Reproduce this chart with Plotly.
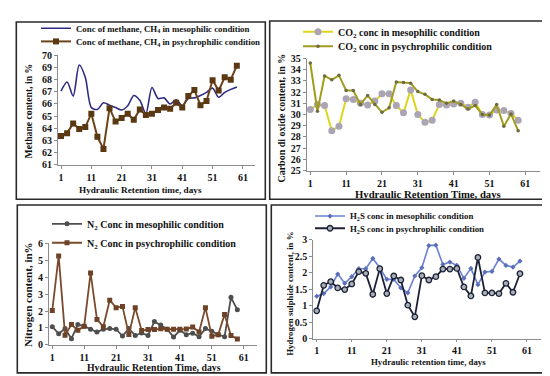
import plotly.graph_objects as go

days = list(range(1, 60, 2))
x_ticks = [1, 11, 21, 31, 41, 51, 61]

ch4_meso = [67.05, 67.8, 66.65, 69.2, 68.2, 65.7, 65.55, 66.1, 65.9, 65.7, 65.5, 65.85, 66.7, 66.3, 65.2,
            67.35, 66.45, 66.5, 66.0, 66.35, 65.85, 66.45, 66.5, 66.7, 66.95, 67.3, 66.55, 66.95, 67.2, 67.4]
ch4_psy = [63.37, 63.6, 64.4, 63.95, 64.1, 65.2, 63.3, 62.3, 65.65, 64.55, 64.85, 65.2, 64.7, 65.55, 65.1,
           65.2, 65.5, 65.7, 65.6, 66.1, 65.7, 66.65, 67.15, 65.9, 66.25, 67.95, 67.1, 68.2, 68.0, 69.15]

co2_meso = [30.45, 30.9, 30.8, 28.55, 28.95, 31.4, 31.35, 31.0, 30.85, 31.2, 31.85, 31.85, 30.8, 30.15, 32.2,
            30.0, 29.3, 29.5, 30.9, 30.85, 30.95, 31.0, 30.65, 31.1, 30.0, 29.95, 30.4, 30.35, 30.1, 29.5]
co2_psy = [34.6, 30.3, 33.45, 33.1, 33.5, 32.15, 32.15, 30.9, 31.7, 30.9, 30.2, 30.6, 32.9, 32.85, 32.8,
           32.05, 31.8, 31.35, 31.3, 31.0, 31.2, 30.9, 30.5, 30.8, 30.0, 29.95, 30.9, 28.95, 30.05, 28.55]

n2_meso = [1.07, 0.65, 0.96, 0.36, 1.2, 1.1, 0.92, 0.76, 0.92, 0.96, 0.92, 0.52, 0.96, 0.55, 0.7,
           0.55, 1.38, 1.17, 0.92, 0.46, 0.86, 0.6, 0.69, 0.48, 0.96, 0.8, 0.6, 0.48, 2.81, 2.07]
n2_psy = [2.03, 5.26, 0.57, 1.2, 0.86, 1.1, 4.25, 1.5, 1.07, 2.64, 2.2, 2.26, 0.61, 2.2, 0.85,
          0.9, 0.9, 0.95, 0.92, 0.92, 0.92, 0.94, 1.05, 0.76, 2.2, 0.5, 0.6, 1.8, 0.55, 0.35]

h2s_meso = [1.29, 1.37, 1.57, 1.96, 1.68, 1.88, 2.12, 2.12, 2.43, 2.15, 1.8, 1.8, 1.54, 1.39, 1.9,
            2.15, 2.82, 2.83, 2.25, 2.32, 2.22, 1.83, 2.13, 1.64, 2.02, 2.04, 2.41, 2.22, 2.17, 2.35]
h2s_psy = [0.85, 1.62, 1.73, 1.54, 1.49, 1.66, 2.03, 1.98, 1.35, 2.12, 1.37, 1.9, 1.78, 1.02, 0.67,
           1.91, 1.78, 1.88, 2.11, 2.11, 2.13, 1.57, 1.3, 2.46, 1.39, 1.39, 1.37, 1.68, 1.41, 1.97]

W, H = 550, 376
SERIF = "Liberation Serif"

def px(v):
    return v / W

def py(v):
    return 1 - v / H

fig = go.Figure()

def add(xa, ya, y, name, legend, color, lw, symbol=None, msize=0, mcolor=None, mline=None, shape="linear"):
    mode = "lines+markers" if symbol else "lines"
    marker = dict(symbol=symbol or "circle", size=msize, color=mcolor or color)
    if mline:
        marker["line"] = dict(color=mline, width=1.3)
    fig.add_trace(go.Scatter(x=days, y=y, name=name, mode=mode, xaxis=xa, yaxis=ya,
                             line=dict(color=color, width=lw, shape=shape, smoothing=0.8),
                             marker=marker, legend=legend, showlegend=True))

add("x", "y", ch4_meso, "Conc of methane, CH<sub>4</sub> in mesophilic condition", "legend",
    "#2E2B80", 1.6, shape="spline")
add("x", "y", ch4_psy, "Conc of methane, CH<sub>4</sub> in psychrophilic condition", "legend2",
    "#6B4219", 2, symbol="square", msize=6, mcolor="#5A3812")

add("x2", "y2", co2_meso, "CO<sub>2</sub> conc in mesophilic condition", "legend3",
    "#DCD61C", 2, symbol="circle", msize=7, mcolor="#ABA4B4")
add("x2", "y2", co2_psy, "CO<sub>2</sub> conc in psychrophilic condition", "legend4",
    "#A29C1E", 2, symbol="circle", msize=3.5, mcolor="#6E6A40")

add("x3", "y3", n2_meso, "N<sub>2</sub> Conc in mesophilic condition", "legend5",
    "#4E4E4E", 1.8, symbol="circle", msize=5, mcolor="#4E4E4E")
add("x3", "y3", n2_psy, "N<sub>2</sub> Conc in psychrophilic condition", "legend6",
    "#7A4A2C", 1.8, symbol="square", msize=5, mcolor="#6E4226")

add("x4", "y4", h2s_meso, "H<sub>2</sub>S conc in mesophilic condition", "legend7",
    "#6A82D4", 1.6, symbol="diamond", msize=4, mcolor="#5B6FB8")
add("x4", "y4", h2s_psy, "H<sub>2</sub>S conc in psychrophilic condition", "legend8",
    "#1C2036", 1.8, symbol="circle", msize=5.5, mcolor="#A8AEB6", mline="#1C2036")

axis_common = dict(showgrid=False, zeroline=False, showline=True, linecolor="#8C8C8C", linewidth=1,
                   ticks="outside", ticklen=3, tickcolor="#8C8C8C",
                   tickfont=dict(family=SERIF, size=10, color="#111", weight="bold"))

panels = [
    ("xaxis", "yaxis", "y", "x", (50, 247), (42.7, 155.7), [61, 70], 1),
    ("xaxis2", "yaxis2", "y2", "x2", (298.7, 531.7), (46, 161.7), [25, 35], 1),
    ("xaxis3", "yaxis3", "y3", "x3", (41.1, 248.5), (237, 341.7), [0, 6], 1),
    ("xaxis4", "yaxis4", "y4", "x4", (305.2, 533), (233, 335.7), [0, 3], 0.5),
]
lay = {}
for xn, yn, yref, xref, (x0, x1), (yt, yb), yr, dt in panels:
    lay[xn] = dict(axis_common, domain=[px(x0), px(x1)], range=[0, 65], tickvals=x_ticks,
                   anchor=yref)
    lay[yn] = dict(axis_common, domain=[py(yb), py(yt)], range=yr, dtick=dt, anchor=xref)
lay["xaxis4"]["ticklen"] = 2

legend_pos = [
    ("legend", 68, 14.7, 8.8),
    ("legend2", 68, 28.3, 8.8),
    ("legend3", 330, 18.3, 10),
    ("legend4", 330, 33.3, 10),
    ("legend5", 79, 216.7, 10),
    ("legend6", 79, 236.3, 10),
    ("legend7", 342, 208.7, 8.8),
    ("legend8", 342, 221.3, 8.8),
]
for ln, tx, ty, fs in legend_pos:
    lay[ln] = dict(x=px(tx - 40), y=py(ty), xanchor="left", yanchor="middle",
                   bgcolor="rgba(0,0,0,0)", borderwidth=0,
                   font=dict(family=SERIF, size=fs, color="#111", weight="bold"),
                   itemwidth=30)

boxes = [(8.3, 8.3, 257.3, 191.3), (261.7, 7.3, 541.7, 191.3),
         (9.3, 197.3, 258.3, 370.7), (263.3, 197.3, 541.7, 370.7)]
shapes = [dict(type="rect", xref="paper", yref="paper", x0=px(a), x1=px(c), y0=py(d), y1=py(b),
               line=dict(color="#2A2A2A", width=1.6), fillcolor="rgba(0,0,0,0)", layer="above")
          for a, b, c, d in boxes]

titles = [
    ("Methane content, in %", 20.7, 100, 9.7, -90),
    ("Hydraulic Retention time, days", 132.7, 181.7, 9.2, 0),
    ("Carbon di oxide content, in %", 274, 108, 10, -90),
    ("Hydraulic Retention Time, days", 420, 185.5, 10.7, 0),
    ("Nitrogen content, in%", 19.3, 290, 11, -90),
    ("Hydraulic Retention Time, days", 146, 364.7, 9.8, 0),
    ("Hydrogen sulphide content, in %", 282, 289, 8.8, -90),
    ("Hydraulic retention time, days", 420.5, 359.5, 8.8, 0),
]
annotations = [dict(text=t, x=px(x), y=py(y), xref="paper", yref="paper", showarrow=False,
                    xanchor="center", yanchor="middle", textangle=a,
                    font=dict(family=SERIF, size=s, color="#111", weight="bold"))
               for t, x, y, s, a in titles]

fig.update_layout(width=W, height=H, margin=dict(l=0, r=0, t=0, b=0),
                  paper_bgcolor="white", plot_bgcolor="white",
                  shapes=shapes, annotations=annotations, **lay)

fig.write_html("out.html")
